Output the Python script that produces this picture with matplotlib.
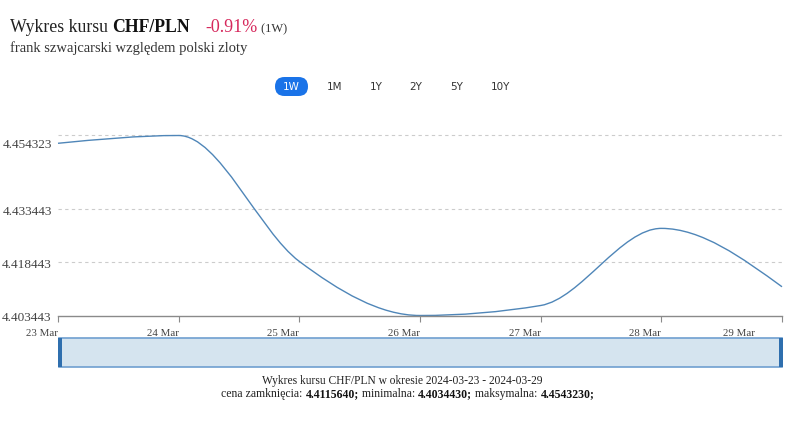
import numpy as np
import matplotlib
matplotlib.use("Agg")
import matplotlib.pyplot as plt
from matplotlib.path import Path
from matplotlib.patches import PathPatch, Rectangle, FancyBboxPatch
from matplotlib.transforms import ScaledTranslation

# dane
days = ["23 Mar", "24 Mar", "25 Mar", "26 Mar", "27 Mar", "28 Mar", "29 Mar"]
rates = [4.45212, 4.454323, 4.41873, 4.403443, 4.40627, 4.42807, 4.411564]
y_ticks = [4.403443, 4.418443, 4.433443, 4.454323]
ranges = ["1W", "1M", "1Y", "2Y", "5Y", "10Y"]

W, H = 800, 439
SERIF = "Liberation Serif"


def monotone_path(x, y):
    # krzywa jak d3.curveMonotoneX
    x = np.asarray(x, float)
    y = np.asarray(y, float)
    n = len(x)
    t = np.zeros(n)
    for i in range(1, n - 1):
        h0 = x[i] - x[i - 1]
        h1 = x[i + 1] - x[i]
        s0 = (y[i] - y[i - 1]) / h0
        s1 = (y[i + 1] - y[i]) / h1
        p = (s0 * h1 + s1 * h0) / (h0 + h1)
        t[i] = (np.sign(s0) + np.sign(s1)) * min(abs(s0), abs(s1), 0.5 * abs(p))
    t[0] = (3 * (y[1] - y[0]) / (x[1] - x[0]) - t[1]) / 2
    t[-1] = (3 * (y[-1] - y[-2]) / (x[-1] - x[-2]) - t[-2]) / 2
    verts = [(x[0], y[0])]
    codes = [Path.MOVETO]
    for i in range(n - 1):
        dx = (x[i + 1] - x[i]) / 3
        verts += [(x[i] + dx, y[i] + dx * t[i]),
                  (x[i + 1] - dx, y[i + 1] - dx * t[i + 1]),
                  (x[i + 1], y[i + 1])]
        codes += [Path.CURVE4] * 3
    return Path(verts, codes)


fig = plt.figure(figsize=(W / 100, H / 100), dpi=100)
fig.patch.set_facecolor("white")


def fx(px):
    return px / W


def fy(py):
    return 1 - py / H


ax = fig.add_axes([fx(58), fy(316.5), fx(782) - fx(58), fy(136.5) - fy(316.5)])
xs = np.arange(len(days))
ax.add_patch(PathPatch(monotone_path(xs, rates), fill=False,
                       edgecolor="#4f86b8", lw=1.0, clip_on=False))
ax.set_xlim(0, len(days) - 1)
ax.set_ylim(y_ticks[0], y_ticks[-1])

for s in ["top", "right", "left"]:
    ax.spines[s].set_visible(False)
ax.spines["bottom"].set_color("#8a8a8a")
ax.spines["bottom"].set_linewidth(1.0)

ax.set_yticks(y_ticks)
ax.set_yticklabels(["%.6f" % v for v in y_ticks])
ax.tick_params(axis="y", length=0, pad=4.5, labelsize=9.5, labelcolor="#444444")
for v in y_ticks[1:]:
    ax.axhline(v, color="#cccccc", lw=0.8, ls=(0, (3, 3)), zorder=0, clip_on=False)
for lab in ax.get_yticklabels():
    lab.set_fontfamily(SERIF)
ax.get_yticklabels()[-1].set_va("top")
ax.get_yticklabels()[-1].set_transform(
    ax.get_yticklabels()[-1].get_transform() + ScaledTranslation(0, -0.03, fig.dpi_scale_trans))

ax.set_xticks(xs)
ax.set_xticklabels(days)
ax.tick_params(axis="x", length=4, width=0.8, color="#8a8a8a", pad=5,
               labelsize=7.8, labelcolor="#444444", direction="out")
for lab in ax.get_xticklabels():
    lab.set_fontfamily(SERIF)
    lab.set_ha("right")
last = ax.get_xticklabels()[-1]
last.set_transform(last.get_transform() + ScaledTranslation(-0.27, 0, fig.dpi_scale_trans))

# nawigator
fig.patches.append(Rectangle((fx(59), fy(368)), fx(782) - fx(59), fy(339) - fy(368),
                             transform=fig.transFigure, facecolor="#d5e4ef",
                             edgecolor="#6f9fd0", lw=1.2))
for hx in [58, 778.5]:
    fig.patches.append(Rectangle((fx(hx), fy(368)), fx(4), fy(339) - fy(368),
                                 transform=fig.transFigure, facecolor="#2f6fae",
                                 edgecolor="none"))

# przyciski zakresu
btn_x = [291.5, 335, 376, 416, 457, 501]
for lbl, bx in zip(ranges, btn_x):
    if lbl == "1W":
        fig.patches.append(FancyBboxPatch((fx(bx - 16.5), fy(97)), fx(33), fy(78) - fy(97),
                                          boxstyle="round,pad=0,rounding_size=0.0118",
                                          transform=fig.transFigure, facecolor="#1a73e8",
                                          edgecolor="none", mutation_aspect=1.82))
        fig.text(fx(bx), fy(87.5), lbl, color="white", fontsize=7.5, ha="center",
                 va="center", family="DejaVu Sans")
    else:
        fig.text(fx(bx), fy(87.5), lbl, color="#333333", fontsize=7.5, ha="center",
                 va="center", family="DejaVu Sans")

renderer = fig.canvas.get_renderer()


def run_text(parts, x0, y0, ha="left"):
    # teksty w jednej linii, mieszane style
    texts = []
    for s, kw in parts:
        texts.append(fig.text(0, y0, s, va="baseline", family=SERIF, **kw))
    widths = [t.get_window_extent(renderer).width for t in texts]
    total = sum(widths)
    x = x0 * W - (total / 2 if ha == "center" else 0)
    for t, w in zip(texts, widths):
        t.set_x(x / W)
        x += w


run_text([("Wykres kursu ", dict(fontsize=12.8, color="#222222")),
          ("CHF/PLN", dict(fontsize=12.8, color="#111111", weight="bold")),
          ("    ", dict(fontsize=11)),
          ("-0.91%", dict(fontsize=13, color="#d6285c")),
          (" (1W)", dict(fontsize=9, color="#333333"))], fx(10), fy(32))
fig.text(fx(10), fy(52), "frank szwajcarski względem polski zloty", fontsize=10.5,
         color="#333333", family=SERIF, va="baseline")

run_text([("Wykres kursu CHF/PLN w okresie 2024-03-23 - 2024-03-29",
           dict(fontsize=8.3, color="#222222"))], 0.5025, fy(384.5), ha="center")
run_text([("cena zamknięcia: ", dict(fontsize=8.5, color="#222222")),
          ("4.4115640;", dict(fontsize=8.5, color="#111111", weight="bold")),
          (" minimalna: ", dict(fontsize=8.5, color="#222222")),
          ("4.4034430;", dict(fontsize=8.5, color="#111111", weight="bold")),
          (" maksymalna: ", dict(fontsize=8.5, color="#222222")),
          ("4.4543230;", dict(fontsize=8.5, color="#111111", weight="bold"))],
         0.51, fy(397), ha="center")

fig.savefig("out.png", dpi=100)
